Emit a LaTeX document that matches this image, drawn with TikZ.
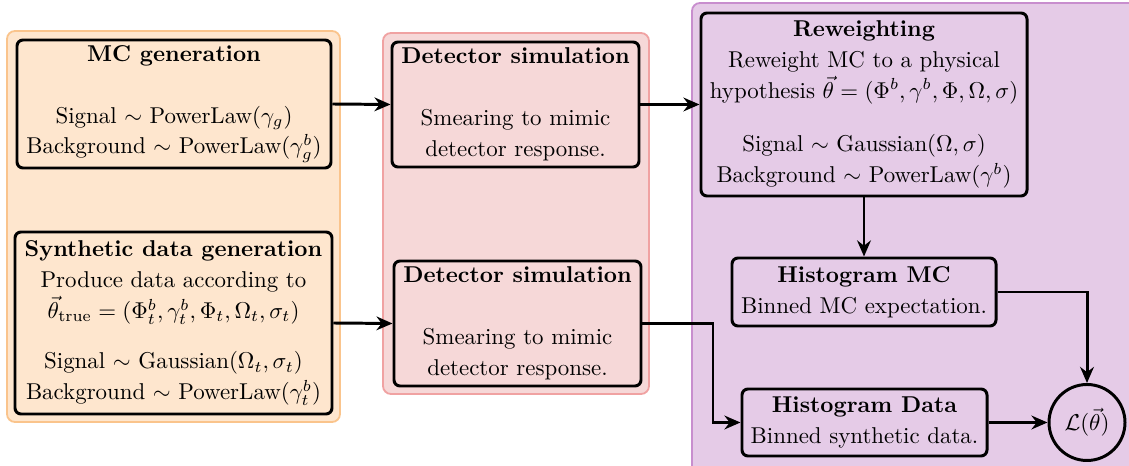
\documentclass[tikz,border=0pt]{standalone}
\usetikzlibrary{arrows.meta}
\definecolor{orfill}{RGB}{254,230,206}
\definecolor{ordraw}{RGB}{250,196,140}
\definecolor{rdfill}{RGB}{246,216,216}
\definecolor{rddraw}{RGB}{240,162,162}
\definecolor{pufill}{RGB}{229,203,231}
\definecolor{pudraw}{RGB}{200,142,206}
\def\u{0.4367pt}
\tikzset{
  panel/.style={rounded corners=8*\u, line width=0.8pt},
  box/.style={draw, line width=1.3pt, rounded corners=6*\u, align=center, inner sep=0pt,
    font=\fontsize{10}{13.5}\selectfont},
  conn/.style={line width=1.3pt, -{Stealth[length=7pt,width=6pt]}},
}
\begin{document}
\begin{tikzpicture}[x=\u, y=-\u]
\useasboundingbox (0,0) rectangle (1129,466);
% panels
\filldraw[panel, fill=orfill, draw=ordraw] (7,31) rectangle (340,422);
\filldraw[panel, fill=rdfill, draw=rddraw] (383,33) rectangle (649,394);
\filldraw[panel, fill=pufill, draw=pudraw] (692,3) rectangle (1140,475);
% nodes
\node[box, minimum width=314*\u, minimum height=128*\u] (mc) at (174,104)
  {\textbf{MC generation}\\[13.5pt]
   Signal $\sim$ PowerLaw$(\gamma_g)$\\
   Background $\sim$ PowerLaw$(\gamma_g^b)$};
\node[box, minimum width=317*\u, minimum height=182*\u] (syn) at (173.5,323)
  {\textbf{Synthetic data generation}\\
   Produce data according to\\
   $\vec{\theta}_{\mathrm{true}} = (\Phi_t^b, \gamma_t^b, \Phi_t, \Omega_t, \sigma_t)$\\[8.5pt]
   Signal $\sim$ Gaussian$(\Omega_t, \sigma_t)$\\
   Background $\sim$ PowerLaw$(\gamma_t^b)$};
\node[box, minimum width=247*\u, minimum height=125*\u] (det1) at (515.5,104.5)
  {\textbf{Detector simulation}\\[13.5pt]
   Smearing to mimic\\
   detector response.};
\node[box, minimum width=247*\u, minimum height=125*\u] (det2) at (517.5,323.5)
  {\textbf{Detector simulation}\\[13.5pt]
   Smearing to mimic\\
   detector response.};
\node[box, minimum width=326*\u, minimum height=183*\u] (rw) at (864,104.5)
  {\textbf{Reweighting}\\
   Reweight MC to a physical\\
   hypothesis $\vec{\theta} = (\Phi^b, \gamma^b, \Phi, \Omega, \sigma)$\\[10pt]
   Signal $\sim$ Gaussian$(\Omega, \sigma)$\\
   Background $\sim$ PowerLaw$(\gamma^b)$};
\node[box, minimum width=264*\u, minimum height=68*\u] (hmc) at (864,292)
  {\textbf{Histogram MC}\\
   Binned MC expectation.};
\node[box, minimum width=245*\u, minimum height=67*\u] (hd) at (864.5,422.5)
  {\textbf{Histogram Data}\\
   Binned synthetic data.};
\node[draw, circle, line width=1.3pt, minimum size=76*\u, inner sep=0pt] (L) at (1087,422.5)
  {$\mathcal{L}(\vec{\theta})$};
\coordinate (k) at (713,0);
% connectors
\draw[conn] (mc.east) -- (det1.west);
\draw[conn] (det1.east) -- (rw.west);
\draw[conn] (syn.east) -- (det2.west);
\draw[conn] (det2.east) -- (det2.east -| k) |- (hd.west);
\draw[conn] (rw.south) -- (hmc.north);
\draw[conn] (hmc.east) -| (L.north);
\draw[conn] (hd.east) -- (L.west);
\end{tikzpicture}
\end{document}
